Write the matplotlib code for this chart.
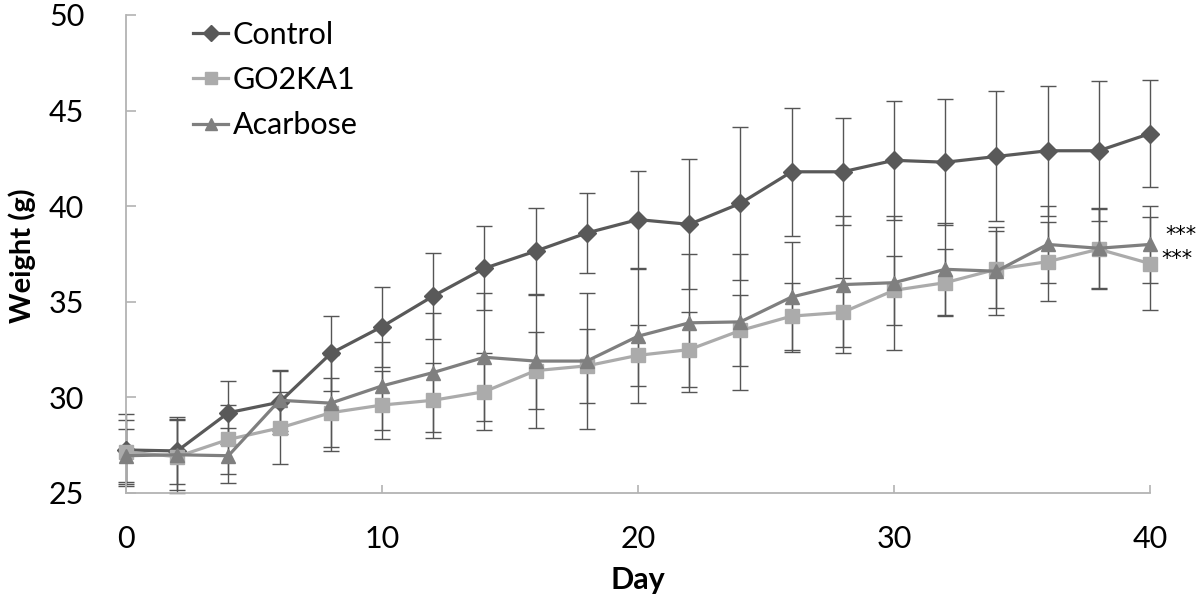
import matplotlib
matplotlib.use("Agg")
import matplotlib.pyplot as plt

days = [0, 2, 4, 6, 8, 10, 12, 14, 16, 18, 20, 22, 24, 26, 28, 30, 32, 34, 36, 38, 40]

control = [27.25, 27.2, 29.2, 29.75, 32.3, 33.7, 35.3, 36.75, 37.65, 38.6, 39.3,
           39.05, 40.15, 41.8, 41.8, 42.4, 42.3, 42.6, 42.9, 42.9, 43.8]
control_err = [1.9, 1.75, 1.65, 1.65, 1.95, 2.1, 2.25, 2.2, 2.27, 2.07, 2.55,
               3.4, 4.0, 3.35, 2.8, 3.1, 3.3, 3.4, 3.4, 3.65, 2.8]

go2ka1 = [27.15, 26.9, 27.8, 28.4, 29.2, 29.6, 29.85, 30.3, 31.4, 31.65, 32.2,
          32.5, 33.5, 34.25, 34.45, 35.6, 36.0, 36.7, 37.1, 37.75, 37.0]
go2ka1_err = [1.68, 1.9, 1.8, 1.9, 1.8, 1.8, 1.95, 2.0, 2.0, 1.95, 1.6,
              1.95, 1.85, 1.75, 1.8, 1.8, 1.75, 2.0, 2.05, 2.1, 2.45]

acarbose = [26.95, 27.0, 26.95, 29.85, 29.7, 30.6, 31.3, 32.1, 31.9, 31.9, 33.2,
            33.9, 33.95, 35.25, 35.9, 36.0, 36.7, 36.6, 38.0, 37.8, 38.0]
acarbose_err = [1.4, 1.85, 1.45, 1.6, 2.5, 2.3, 3.1, 3.35, 3.5, 3.55, 3.5,
                3.6, 3.55, 2.9, 3.6, 3.5, 2.4, 2.3, 2.0, 2.1, 2.0]

series_names = ["Control", "GO2KA1", "Acarbose"]
x_ticks = [0, 10, 20, 30, 40]
y_ticks = [25, 30, 35, 40, 45, 50]
sig_labels = ["***", "***"]

plt.rcParams['font.family'] = ['Lato', 'DejaVu Sans']

fig = plt.figure(figsize=(12, 6.05), dpi=100)
ax = fig.add_axes([126 / 1200, 1 - 493 / 605, (1150 - 126) / 1200, (493 - 15) / 605])

err_color = "#555555"
styles = [
    (control, control_err, "#595959", "D", 9),
    (go2ka1, go2ka1_err, "#ababab", "s", 9.5),
    (acarbose, acarbose_err, "#7f7f7f", "^", 10.5),
]

for vals, errs, col, mk, ms in styles:
    ax.errorbar(days, vals, yerr=errs, fmt="none", ecolor=err_color,
                elinewidth=1.0, capsize=6, capthick=1.0, zorder=2, clip_on=False)

handles = []
for (vals, errs, col, mk, ms), name in zip(styles, series_names):
    h, = ax.plot(days, vals, color=col, marker=mk, markersize=ms, linewidth=2.3,
                 markeredgecolor=col, label=name, zorder=3, clip_on=False)
    handles.append(h)

ax.set_xlim(0, 40)
ax.set_ylim(25, 50)
ax.set_xticks(x_ticks)
ax.set_yticks(y_ticks)

for s in ["top", "right"]:
    ax.spines[s].set_visible(False)
for s in ["left", "bottom"]:
    ax.spines[s].set_color("#b3b3b3")
    ax.spines[s].set_linewidth(1.3)

ax.tick_params(axis="both", direction="in", color="#b3b3b3", width=1.2,
               labelsize=22, labelcolor="black")
ax.tick_params(axis="x", length=6, pad=23)
ax.tick_params(axis="y", length=7, pad=30)

fig.text(22 / 1200, 1 - 256 / 605, "Weight (g)", rotation=90, ha="center",
         va="center", fontsize=21, fontweight="bold")
fig.text(638 / 1200, 1 - 580 / 605, "Day", ha="center", va="center",
         fontsize=22, fontweight="bold")

ax.text(40.62, 38.2, sig_labels[0], fontsize=15, family="DejaVu Sans",
        ha="left", va="baseline", clip_on=False)
ax.text(40.46, 36.9, sig_labels[1], fontsize=15, family="DejaVu Sans",
        ha="left", va="baseline", clip_on=False)

leg = ax.legend(handles=handles, loc="upper left",
                bbox_to_anchor=(193 / 1200, 1 - 21 / 605),
                bbox_transform=fig.transFigure, frameon=False, fontsize=22,
                handlelength=1.15, handletextpad=0.15, labelspacing=0.56,
                borderpad=0, borderaxespad=0, markerscale=0.85)

fig.savefig("out.png", dpi=100)
